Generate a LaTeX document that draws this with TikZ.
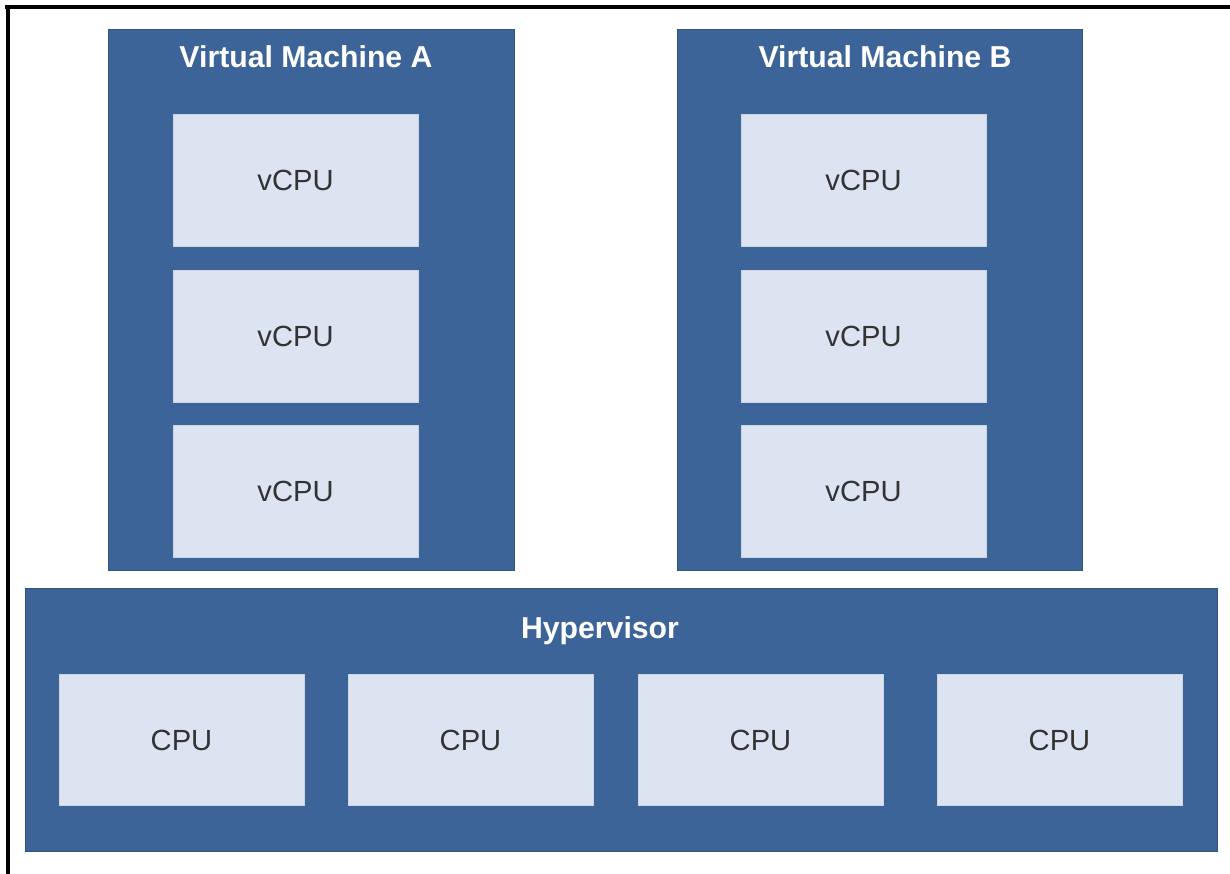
\documentclass[tikz,border=0pt]{standalone}
\usepackage{fontspec}
\setmainfont{Liberation Sans}
\usepackage{tikz}
\usetikzlibrary{positioning}
\definecolor{hvBlue}{RGB}{60, 100, 152}
\definecolor{coreFill}{RGB}{220, 228, 241}

\tikzset{
  layer/.style={fill=hvBlue, draw=hvBlue!85!black, line width=0.4pt, inner sep=0pt, outer sep=0pt},
  core/.style={fill=coreFill, draw=coreFill!85!gray, line width=0.4pt, inner sep=0pt,
    minimum width=4.9cm, minimum height=2.63cm, font=\fontsize{16.6}{19}\selectfont, text=black!80},
  layertitle/.style={font=\fontsize{17.2}{20}\selectfont\bfseries, text=white}
}

\begin{document}
\begin{tikzpicture}[x=0.02cm, y=-0.02cm]
  \useasboundingbox (0,0) rectangle (1230,874);
  % frame (top and left edges only)
  \draw[line width=2.3pt] (5,7) -- (1230,7);
  \draw[line width=2.3pt] (8,5) -- (8,874);

  % virtual machines
  \node[layer, minimum width=8.12cm, minimum height=10.82cm] (vmA) at (311,299.5) {};
  \node[layer, minimum width=8.1cm, minimum height=10.82cm] (vmB) at (879.5,299.5) {};
  \node[layertitle] (vmAtitle) at (306,57) {Virtual Machine A};
  \node[layertitle] (vmBtitle) at (885,57) {Virtual Machine B};

  \node[core] (vcpuA1) at (295.5,180.5) {vCPU};
  \node[core] (vcpuA2) at (295.5,336.5) {vCPU};
  \node[core] (vcpuA3) at (295.5,491.5) {vCPU};
  \node[core] (vcpuB1) at (863.5,180.5) {vCPU};
  \node[core] (vcpuB2) at (863.5,336.5) {vCPU};
  \node[core] (vcpuB3) at (863.5,491.5) {vCPU};

  % hypervisor with physical cores
  \node[layer, minimum width=23.84cm, minimum height=5.26cm] (hyp) at (621,719.5) {};
  \node[layertitle] (hyptitle) at (600,631) {Hypervisor};
  \node[core] (cpu1) at (181.5,740) {CPU};
  \node[core] (cpu2) at (470.5,740) {CPU};
  \node[core] (cpu3) at (760.5,740) {CPU};
  \node[core] (cpu4) at (1059.5,740) {CPU};
\end{tikzpicture}
\end{document}
